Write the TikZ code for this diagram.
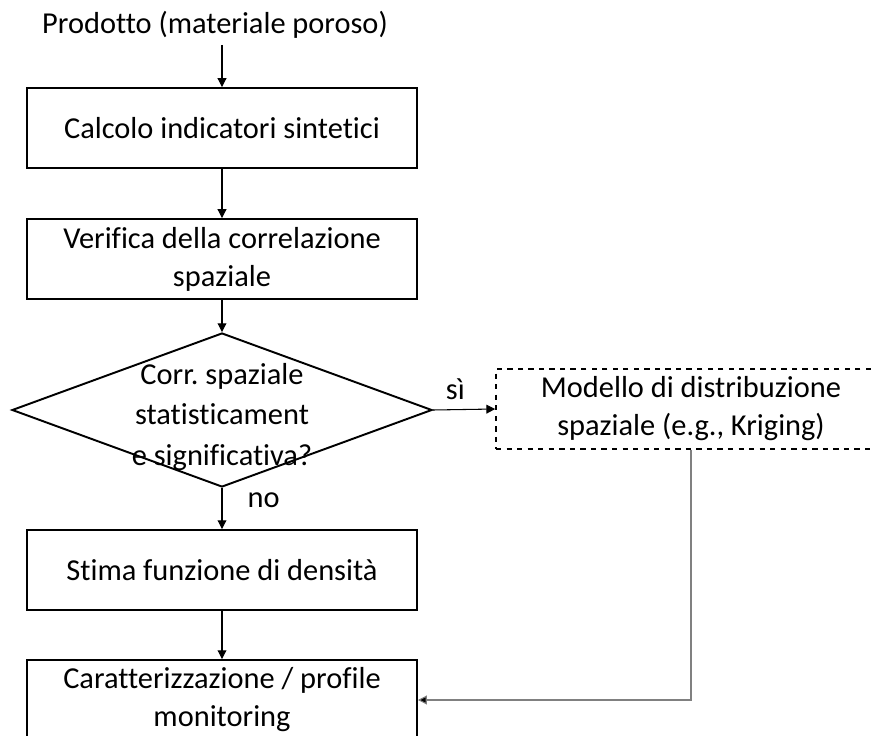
\documentclass[tikz,border=0pt]{standalone}
\usepackage{fontspec}
\setmainfont{Carlito}[Ligatures=NoCommon]
\usetikzlibrary{shapes.geometric,arrows.meta}
\frenchspacing

\tikzset{
  bloc/.style={draw,line width=1.1pt,minimum width=7.8cm,minimum height=1.6cm,
    align=center,inner sep=2pt},
  blocopt/.style={bloc,dashed,line width=0.9pt},
  decizie/.style={draw,diamond,line width=1.1pt,minimum width=8.4cm,
    minimum height=3.08cm,inner sep=0pt},
  sageata/.style={-{Triangle[length=5pt,width=5pt]},line width=0.6pt},
  retur/.style={sageata,draw=gray,-{Triangle[length=5pt,width=5pt,fill=black]}}
}

\begin{document}
\begin{tikzpicture}[every node/.style={font=\fontsize{17.3}{21.6}\selectfont}]
  % cadrul desenului
  \clip (0,0) rectangle (17.46,-14.72);

  % intrarea
  \node (prodotto) at (4.30,-0.50) {Prodotto (materiale poroso)};

  % blocurile
  \node[bloc] (calcolo) at (4.44,-2.56) {Calcolo indicatori sintetici};
  \node[bloc] (verifica) at (4.44,-5.18) {Verifica della correlazione\\spaziale};
  \node[decizie] (corr) at (4.44,-8.20) {};
  \node[align=center,font=\fontsize{17.3}{22.8}\selectfont] (corrtext) at (4.44,-8.34)
    {Corr.\ spaziale\\statisticament\\e significativa?};
  \node[blocopt] (modello) at (13.82,-8.18) {Modello di distribuzione\\spaziale (e.g., Kriging)};
  \node[bloc] (stima) at (4.44,-11.40) {Stima funzione di densità};
  \node[bloc] (caratt) at (4.44,-14.00) {Caratterizzazione / profile\\monitoring};

  % legaturile
  \draw[sageata] (prodotto.south -| calcolo.north) -- (calcolo.north);
  \draw[sageata] (calcolo) -- (verifica);
  \draw[sageata] (verifica) -- (corr.north);
  \draw[sageata] (corr.east) -- node[pos=0.36,above=2pt] {sì} (modello.west);
  \draw[sageata] (corr.south) -- node[pos=0.3,right=11pt] {no} (stima.north);
  \draw[sageata] (stima) -- (caratt);
  \draw[retur] (modello.south) |- (caratt.east);
\end{tikzpicture}
\end{document}
